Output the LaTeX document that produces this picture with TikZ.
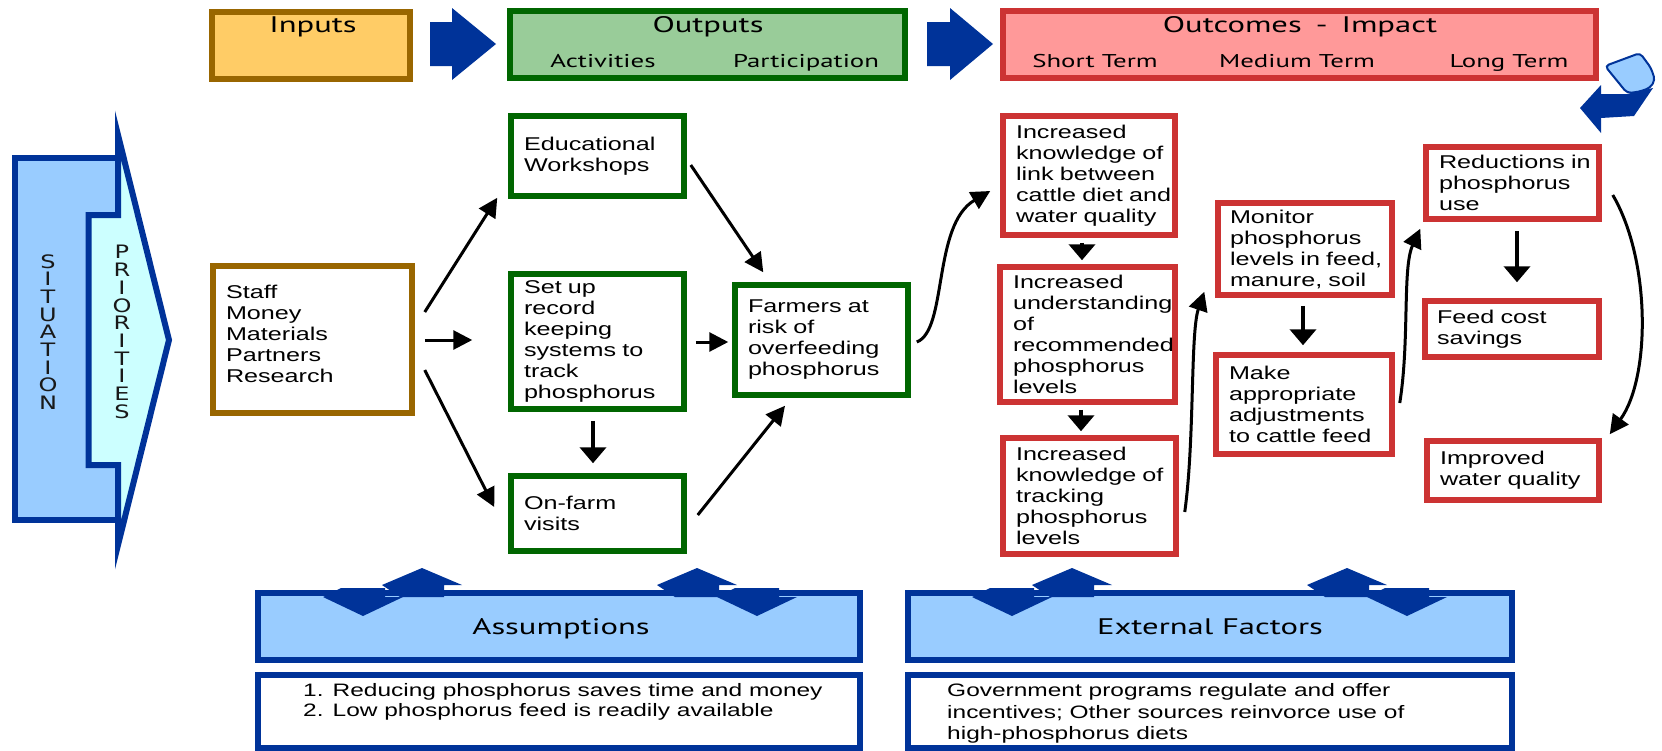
\documentclass[tikz,border=0pt]{standalone}
\usepackage{fontspec}
\usetikzlibrary{arrows.meta,calc}
\newfontfamily\boxfont[FakeStretch=1.36]{Liberation Sans}
\newfontfamily\headfont[FakeStretch=1.45]{PT Sans}
\newfontfamily\letterfont[FakeStretch=1.3]{DejaVu Sans}
\newcommand\bfnt{\boxfont\fontsize{18.5}{21}\selectfont}
\newcommand\tfnt{\boxfont\fontsize{18}{21}\selectfont}
\newcommand\hfnt{\headfont\fontsize{22.5}{26}\selectfont}
\newcommand\sfnt{\headfont\fontsize{18.5}{22}\selectfont}
\newcommand\lfnt{\letterfont\fontsize{18.5}{17.7}\selectfont}
\definecolor{dkblue}{HTML}{003399}
\definecolor{ltblue}{HTML}{99CCFF}
\definecolor{cyanc}{HTML}{CCFFFF}
\definecolor{brownc}{HTML}{996600}
\definecolor{yellowc}{HTML}{FFCC66}
\definecolor{dkgreen}{HTML}{006600}
\definecolor{ltgreen}{HTML}{99CC99}
\definecolor{redc}{HTML}{CC3333}
\definecolor{pinkc}{HTML}{FF9999}
\newcommand\DblArrow[2]{%
  \fill[dkblue] ({#1-40},585) -- (#1,568) -- ({#1+40},585) -- ({#1+22},585) -- ({#1+22},597) -- ({#1-22},597) -- cycle;
  \fill[dkblue] ({#2-40},597) -- (#2,616) -- ({#2+40},597) -- ({#2+22},597) -- ({#2+22},588) -- ({#2-22},588) -- cycle;}
\tikzset{
  bx/.style={draw, line width=5.5pt, fill=white, font=\bfnt, align=left, inner sep=0pt},
  gbox/.style={bx, draw=dkgreen},
  rbox/.style={bx, draw=redc},
  ibox/.style={bx, draw=brownc},
  hbox/.style={draw, line width=6pt, inner sep=0pt},
  htext/.style={font=\hfnt, anchor=base, inner sep=0pt},
  stext/.style={font=\sfnt, anchor=base, inner sep=0pt},
  ltext/.style={font=\tfnt, anchor=base west, inner sep=0pt},
  vletters/.style={font=\lfnt, align=center, inner sep=0pt, text=black!90},
  arr/.style={line width=3pt, -{Triangle[length=19pt,width=19pt]}},
  sarr/.style={line width=4.5pt, -{Triangle[length=16pt,width=26pt]}},
}
\begin{document}
\begin{tikzpicture}[x=1pt,y=-1pt]
\useasboundingbox (0,0) rectangle (1662,750);

% ---------- header row ----------
\node[hbox, draw=brownc, fill=yellowc, minimum width=198pt, minimum height=67pt] (hin) at (311,45) {};
\node[htext] (hint) at (313,32) {Inputs};
\node[hbox, draw=dkgreen, fill=ltgreen, minimum width=395pt, minimum height=67pt] (hout) at (707.5,44.5) {};
\node[htext] (houtt) at (708,32) {Outputs};
\node[stext] (hact) at (603,67) {Activities};
\node[stext] (hpar) at (806,67) {Participation};
\node[hbox, draw=redc, fill=pinkc, minimum width=593pt, minimum height=67pt] (hoc) at (1299.5,44.5) {};
\node[htext] (hoct) at (1300,32) {Outcomes\hspace{14pt}-\hspace{14pt}Impact};
\node[stext] (hst) at (1095,67) {Short Term};
\node[stext] (hmt) at (1297,67) {Medium Term};
\node[stext] (hlt) at (1509,67) {Long Term};

\fill[dkblue] (430,22) -- (452,22) -- (452,8) -- (496,44) -- (452,80) -- (452,66) -- (430,66) -- cycle;
\fill[dkblue] (927,22) -- (950,22) -- (950,8) -- (993,44) -- (950,80) -- (950,66) -- (927,66) -- cycle;

% top right curved arrow
\filldraw[fill=ltblue, draw=dkblue, line width=2pt, rounded corners=4pt] (1605,66) -- (1640,53) -- (1651,68) -- (1655,80) -- (1650,88) -- (1638,92) -- (1627,93) -- cycle;
\fill[dkblue] (1580,108) -- (1601,85) -- (1601,94) -- (1627,94) -- (1653,88) -- (1634,116) -- (1601,118) -- (1601,133) -- cycle;

% ---------- situation / priorities ----------
\filldraw[fill=ltblue, draw=dkblue, line width=6pt] (15,158) -- (118,158) -- (118,215) -- (88.5,215) -- (88.5,465) -- (118,465) -- (118,520) -- (15,520) -- cycle;
\filldraw[fill=cyanc, draw=dkblue, line width=6pt] (88.5,215) -- (118,215) -- (118,135) -- (169,340) -- (118,545) -- (118,465) -- (88.5,465) -- cycle;
\node[vletters] (sit) at (48,332) {S\\I\\T\\U\\A\\T\\I\\O\\N};
\node[vletters] (pri) at (122,332) {P\\R\\I\\O\\R\\I\\T\\I\\E\\S};

% ---------- inputs / outputs ----------
\node[ibox, minimum width=199pt, minimum height=147pt, text width=173pt] (inp) at (312.5,339.5) {Staff\\Money\\Materials\\Partners\\Research\\[-10pt]\mbox{}};
\node[gbox, minimum width=173pt, minimum height=80pt, text width=147pt] (edu) at (597.5,156) {Educational\\Workshops};
\node[gbox, minimum width=173pt, minimum height=135pt, text width=147pt] (setup) at (597.5,341.5) {Set~up\\record\\keeping\\systems~to\\track\\phosphorus};
\node[gbox, minimum width=173pt, minimum height=75pt, text width=147pt] (onfarm) at (597.5,513.5) {On-farm\\visits};
\node[gbox, minimum width=173pt, minimum height=110pt, text width=147pt] (farm) at (821.5,340) {Farmers~at\\risk~of\\overfeeding\\phosphorus};

% ---------- outcomes ----------
\node[rbox, minimum width=172pt, minimum height=119pt, text width=146pt] (ik1) at (1089,175.5) {Increased\\knowledge~of\\link~between\\cattle~diet~and\\water~quality};
\node[rbox, minimum width=175pt, minimum height=135pt, text width=149pt] (iu) at (1087.5,334.5) {Increased\\understanding\\of\\recommended\\phosphorus\\levels};
\node[rbox, minimum width=173pt, minimum height=116pt, text width=147pt] (ik3) at (1089.5,496) {Increased\\knowledge~of\\tracking\\phosphorus\\levels};
\node[rbox, minimum width=174pt, minimum height=92pt, text width=150pt] (mon) at (1305,249) {Monitor\\phosphorus\\levels~in~feed,\\manure,~soil};
\node[rbox, minimum width=176pt, minimum height=99pt, text width=150pt] (make) at (1304,404.5) {Make\\appropriate\\adjustments\\to~cattle~feed};
\node[rbox, minimum width=173pt, minimum height=72pt, text width=147pt] (red) at (1512.5,183) {Reductions~in\\phosphorus\\use};
\node[rbox, minimum width=174pt, minimum height=56pt, text width=150pt] (feed) at (1512,329) {Feed~cost\\savings};
\node[rbox, minimum width=172pt, minimum height=59pt, text width=146pt] (imp) at (1513,470.5) {Improved\\water~quality};

% ---------- connectors ----------
\draw[arr] ($(inp.east)+(10,-27.5)$) -- ($(edu.south west)+(-11,-1)$);
\draw[arr] ($(inp.east)+(10,0.5)$) -- ($(setup.west)+(-36,-1.5)$);
\draw[arr] ($(inp.east)+(10,30.5)$) -- ($(onfarm.west)+(-14,-6.5)$);
\draw[arr] ($(edu.east)+(4,9)$) -- ($(farm.north west)+(31,-10)$);
\draw[arr] ($(setup.east)+(9,0.5)$) -- ($(farm.west)+(-4,2)$);
\draw[sarr] ($(setup.south)+(-4.5,9)$) -- ($(onfarm.north)+(-4.5,-10)$);
\draw[arr] ($(onfarm.east)+(11,1.5)$) -- ($(farm.south)+(-36.5,8)$);
\draw[arr] ($(farm.east)+(6,2)$) .. controls +(31,-12) and +(-58,34) .. ($(ik1.west)+(-10,15.5)$);
\draw[sarr] ($(ik1.south)+(-7,5)$) -- ($(iu.north)+(-5.5,-4)$);
\draw[sarr] ($(iu.south)+(-6.5,5)$) -- ($(ik3.north)+(-8.5,-4)$);
\draw[arr] ($(ik3.east)+(6,16)$) .. controls +(10,-72) and +(-14,41) .. ($(mon.south west)+(-11,-6)$);
\draw[sarr] ($(mon.south)+(-2,8)$) -- ($(make.north)+(-1,-7)$);
\draw[arr] ($(make.east)+(5,-1.5)$) .. controls +(10,-63) and +(-18,39) .. ($(red.south west)+(-3,7)$);
\draw[sarr] ($(red.south)+(4.5,9)$) -- ($(feed.north)+(5,-16)$);
\draw[arr] ($(red.east)+(11,12)$) .. controls +(38,65) and +(41,-57) .. ($(imp.north east)+(8,-4)$);

% ---------- assumptions / external factors ----------
\node[hbox, draw=dkblue, fill=ltblue, minimum width=602pt, minimum height=67pt] (ass) at (559,626.5) {};
\node[htext] (asst) at (561,634) {Assumptions};
\node[hbox, draw=dkblue, fill=white, minimum width=602pt, minimum height=73pt] (assb) at (559,711.5) {};
\node[ltext] (ass1) at (303,696) {1. Reducing phosphorus saves time and money};
\node[ltext] (ass2) at (303,716) {2. Low phosphorus feed is readily available};
\node[hbox, draw=dkblue, fill=ltblue, minimum width=604pt, minimum height=67pt] (ext) at (1210,626.5) {};
\node[htext] (extt) at (1210,634) {External Factors};
\node[hbox, draw=dkblue, fill=white, minimum width=604pt, minimum height=73pt] (extb) at (1210,711.5) {};
\node[ltext] (ext1) at (947,696) {Government programs regulate and offer};
\node[ltext] (ext2) at (947,718) {incentives; Other sources reinvorce use of};
\node[ltext] (ext3) at (947,739) {high-phosphorus diets};

\DblArrow{422}{363}
\DblArrow{697}{757}
\DblArrow{1072}{1012}
\DblArrow{1347}{1407}
\end{tikzpicture}
\end{document}
